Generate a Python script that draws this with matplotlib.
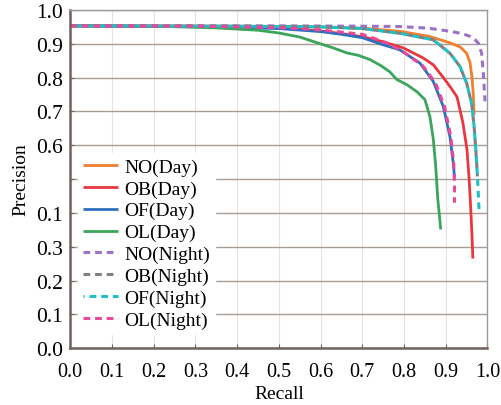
import matplotlib
matplotlib.use('Agg')
import matplotlib.pyplot as plt

plt.rcParams['font.family'] = ['Liberation Serif', 'DejaVu Serif']

# PR curves (recall, precision)
no_day_r = [0, 0.4, 0.6, 0.7, 0.79, 0.86, 0.91, 0.935, 0.95, 0.958, 0.963, 0.966, 0.968]
no_day_p = [0.953, 0.952, 0.95, 0.946, 0.937, 0.922, 0.903, 0.89, 0.872, 0.845, 0.80, 0.75, 0.69]

ob_day_r = [0, 0.3, 0.5, 0.6, 0.65, 0.7, 0.75, 0.798, 0.846, 0.87, 0.893, 0.91, 0.927, 0.941, 0.951,
            0.956, 0.96, 0.963, 0.965]
ob_day_p = [0.953, 0.952, 0.947, 0.938, 0.93, 0.921, 0.906, 0.888, 0.858, 0.838, 0.802, 0.774, 0.743, 0.667, 0.587,
            0.50, 0.41, 0.33, 0.265]

of_day_r = [0, 0.3, 0.5, 0.6, 0.65, 0.7, 0.75, 0.79, 0.838, 0.87, 0.894, 0.91, 0.918, 0.921]
of_day_p = [0.953, 0.951, 0.945, 0.936, 0.928, 0.918, 0.897, 0.882, 0.843, 0.789, 0.715, 0.626, 0.548, 0.505]

ol_day_r = [0, 0.2, 0.35, 0.45, 0.5, 0.55, 0.592, 0.63, 0.663, 0.69, 0.719, 0.745, 0.766, 0.783, 0.807,
            0.831, 0.85, 0.862, 0.87, 0.876, 0.881, 0.885, 0.888]
ol_day_p = [0.953, 0.952, 0.947, 0.94, 0.932, 0.92, 0.903, 0.888, 0.873, 0.866, 0.853, 0.835, 0.817, 0.794, 0.779,
            0.758, 0.735, 0.685, 0.62, 0.537, 0.44, 0.39, 0.351]

no_night_r = [0, 0.5, 0.7, 0.79, 0.86, 0.91, 0.94, 0.958, 0.97, 0.978, 0.986, 0.99, 0.994]
no_night_p = [0.953, 0.953, 0.952, 0.951, 0.946, 0.937, 0.93, 0.922, 0.912, 0.902, 0.872, 0.813, 0.73]

ob_night_r = [0, 0.4, 0.6, 0.7, 0.79, 0.87, 0.91, 0.934, 0.95, 0.962, 0.968, 0.972, 0.976]
ob_night_p = [0.953, 0.952, 0.95, 0.945, 0.931, 0.912, 0.872, 0.833, 0.784, 0.724, 0.656, 0.587, 0.508]

of_night_r = [0, 0.4, 0.6, 0.7, 0.79, 0.87, 0.91, 0.934, 0.95, 0.962, 0.968, 0.972, 0.976, 0.98]
of_night_p = [0.953, 0.952, 0.95, 0.945, 0.931, 0.912, 0.872, 0.833, 0.784, 0.724, 0.656, 0.587, 0.508, 0.405]

ol_night_r = [0, 0.3, 0.5, 0.6, 0.7, 0.726, 0.76, 0.8, 0.845, 0.875, 0.897, 0.912, 0.919, 0.921, 0.921]
ol_night_p = [0.953, 0.952, 0.948, 0.941, 0.928, 0.917, 0.902, 0.875, 0.835, 0.785, 0.715, 0.626, 0.548, 0.49, 0.43]

x_ticks = [0.0, 0.1, 0.2, 0.3, 0.4, 0.5, 0.6, 0.7, 0.8, 0.9, 1.0]
x_labels = ['0.0', '0.1', '0.2', '0.3', '0.4', '0.5', '0.6', '0.7', '0.8', '0.9', '1.0']
y_ticks = [0.0, 0.1, 0.2, 0.3, 0.4, 0.5, 0.6, 0.7, 0.8, 0.9, 1.0]
y_labels = ['0.0', '0.1', '0.2', '0.3', '0.1', '', '0.6', '0.7', '0.8', '0.9', '1.0']

fig = plt.figure(figsize=(5.01, 4.06), dpi=100)
ax = fig.add_axes([0.140, 0.140, 0.833, 0.833])

solid = dict(lw=2.0, solid_capstyle='butt')
dash = dict(lw=2.2, linestyle=(0, (2.2, 1.6)))

ax.plot(no_day_r, no_day_p, color='#f07f2e', label='NO(Day)', **solid)
ax.plot(ob_day_r, ob_day_p, color='#e8373f', label='OB(Day)', **solid)
ax.plot(of_day_r, of_day_p, color='#2e6fbf', label='OF(Day)', **solid)
ax.plot(ol_day_r, ol_day_p, color='#3ba55c', label='OL(Day)', **solid)
ax.plot(no_night_r, no_night_p, color='#9b72c8', label='NO(Night)', **dash)
ax.plot(ob_night_r, ob_night_p, color='#808080', label='OB(Night)', **dash)
ax.plot(of_night_r, of_night_p, color='#20bfc4', label='OF(Night)', lw=2.2, linestyle=(1.8, (2.2, 1.6)))
ax.plot(ol_night_r, ol_night_p, color='#e8489a', label='OL(Night)', **dash)

ax.set_xlim(0, 1)
ax.set_ylim(0, 1)
ax.set_xticks(x_ticks)
ax.set_xticklabels(x_labels, fontsize=14.5)
ax.set_yticks(y_ticks)
ax.set_yticklabels(y_labels, fontsize=15.5)
ax.tick_params(direction='in', length=3, color='#6e625c')
ax.tick_params(axis='x', pad=10)
ax.tick_params(axis='y', pad=5)

ax.yaxis.grid(True, color='#a89e96', lw=1.0)
ax.xaxis.grid(True, color='#e4e4e4', lw=0.8)
ax.set_axisbelow(True)

for s in ['left', 'bottom']:
    ax.spines[s].set_color('#6e625c')
    ax.spines[s].set_linewidth(1.8)
for s in ['top', 'right']:
    ax.spines[s].set_color('#9a9a9a')
    ax.spines[s].set_linewidth(1.0)

ax.set_xlabel('Recall', fontsize=14, labelpad=3)
ax.set_ylabel('Precision', fontsize=14, labelpad=5)

leg = ax.legend(loc='upper left', bbox_to_anchor=(0.02, 0.577), borderaxespad=0, fontsize=14, frameon=True,
                handlelength=1.8, handletextpad=0.3, labelspacing=0.22, borderpad=0.25)
leg.get_frame().set_edgecolor('white')
leg.get_frame().set_alpha(1.0)

fig.savefig('out.png', dpi=100)
